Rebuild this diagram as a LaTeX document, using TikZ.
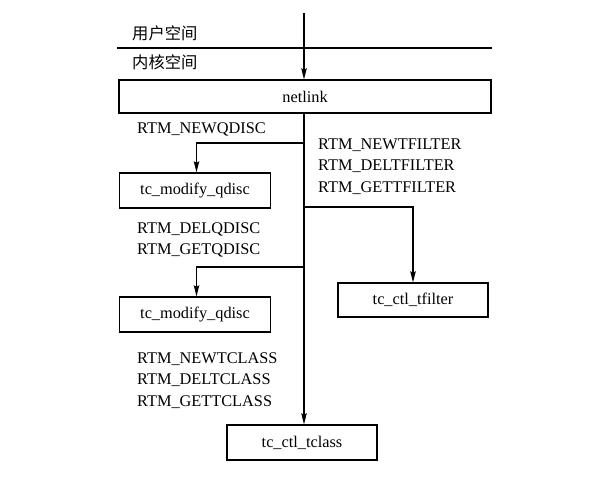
\documentclass[tikz,border=0pt]{standalone}
\usepackage{fontspec}
\setmainfont{Liberation Serif}
\newfontfamily\cjk{Noto Sans CJK SC}
\usetikzlibrary{arrows.meta}
\begin{document}
\begin{tikzpicture}[x=1pt,y=-1pt,
  lbl/.style={font=\fontsize{16.3}{21.5}\selectfont, inner sep=0pt, anchor=west, align=left},
  boxnode/.style={draw, line width=1.4pt, inner sep=0pt, font=\fontsize{16.3}{18}\selectfont},
  arr/.style={line width=1.1pt, -{Stealth[length=11pt,width=5.5pt,inset=1.5pt]}},
  ln/.style={line width=1.1pt}]
\useasboundingbox (0,0) rectangle (601,482);
% separator
\draw[ln] (117,48) -- (492,48);
\node[lbl] (us) at (132,33) {\cjk 用户空间};
\node[lbl] (ks) at (132,62) {\cjk 内核空间};
% boxes
\node[boxnode, minimum width=372pt, minimum height=33pt] (nl) at (305,96.5) {netlink};
\node[boxnode, minimum width=151pt, minimum height=35pt] (q1) at (195,190.5) {tc\_modify\_qdisc};
\node[boxnode, minimum width=151pt, minimum height=35pt] (q2) at (195,314.5) {tc\_modify\_qdisc};
\node[boxnode, minimum width=150pt, minimum height=34pt] (tf) at (413,300) {tc\_ctl\_tfilter};
\node[boxnode, minimum width=150pt, minimum height=35pt] (tc) at (302,442.5) {tc\_ctl\_tclass};
% labels
\node[lbl] (l1) at (137,129) {RTM\_NEWQDISC};
\node[lbl] (l2) at (318,166.5) {RTM\_NEWTFILTER\\RTM\_DELTFILTER\\RTM\_GETTFILTER};
\node[lbl] (l3) at (137,240) {RTM\_DELQDISC\\RTM\_GETQDISC};
\node[lbl] (l4) at (137,380.5) {RTM\_NEWTCLASS\\RTM\_DELTCLASS\\RTM\_GETTCLASS};
% connectors
\coordinate (top) at (304,13);
\coordinate (b1) at (304,143);
\coordinate (b2) at (304,207);
\coordinate (b3) at (304,267);
\draw[arr] (top) -- (top |- nl.north);
\draw[arr] (top |- nl.south) -- (top |- tc.north);
\draw[arr] (b1) -| ([xshift=1.5pt]q1.north);
\draw[arr] (b2) -| (tf.north);
\draw[arr] (b3) -| ([xshift=1.5pt]q2.north);
\end{tikzpicture}
\end{document}
